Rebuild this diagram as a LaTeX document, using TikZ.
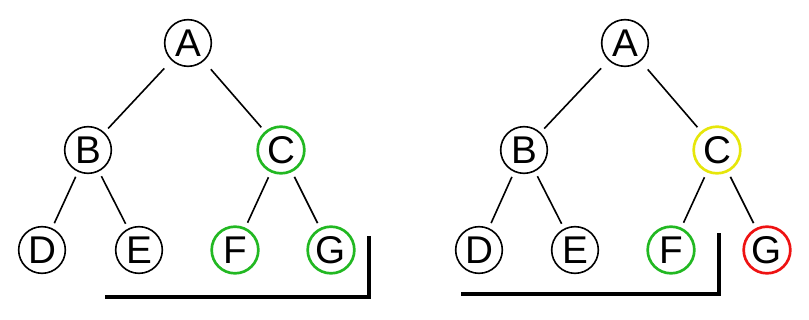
\documentclass[tikz,border=0pt]{standalone}
\usepackage{fontspec}
\setmainfont{Liberation Sans}
\definecolor{vgreen}{RGB}{34,184,34}
\definecolor{vyellow}{RGB}{230,230,10}
\definecolor{vred}{RGB}{238,18,18}
\tikzset{
  vnode/.style={circle,draw=black,line width=1.2pt,minimum size=35pt,inner sep=0pt,font=\fontsize{29}{29}\selectfont},
  hl/.style={draw=#1,line width=2pt},
  edge/.style={line width=1.2pt,shorten <=4pt,shorten >=4pt},
  topedge/.style={line width=1.2pt,shorten <=8pt,shorten >=4pt},
  bracket/.style={line width=2.3pt}
}
\begin{document}
\begin{tikzpicture}[x=0.75pt,y=-0.75pt]
\useasboundingbox (0,0) rectangle (809,320);
% left tree
\node[vnode] (lA) at (188,43) {A};
\node[vnode] (lB) at (88,150) {B};
\node[vnode,hl=vgreen] (lC) at (281,150) {C};
\node[vnode] (lD) at (42,250) {D};
\node[vnode] (lE) at (139,250) {E};
\node[vnode,hl=vgreen] (lF) at (235,250) {F};
\node[vnode,hl=vgreen] (lG) at (331,250) {G};
\draw[topedge] (lA) -- (lB);
\draw[topedge] (lA) -- (lC);
\draw[edge] (lB) -- (lD);
\draw[edge] (lB) -- (lE);
\draw[edge] (lC) -- (lF);
\draw[edge] (lC) -- (lG);
\coordinate (lb1) at (105,297);
\coordinate (lb2) at (369,297);
\coordinate (lb3) at (369,236);
\draw[bracket] (lb1) -- (lb2) -- (lb3);
% right tree
\node[vnode] (rA) at (625,43) {A};
\node[vnode] (rB) at (524,150) {B};
\node[vnode,hl=vyellow] (rC) at (717,150) {C};
\node[vnode] (rD) at (479,250) {D};
\node[vnode] (rE) at (575,250) {E};
\node[vnode,hl=vgreen] (rF) at (671,250) {F};
\node[vnode,hl=vred] (rG) at (767,250) {G};
\draw[topedge] (rA) -- (rB);
\draw[topedge] (rA) -- (rC);
\draw[edge] (rB) -- (rD);
\draw[edge] (rB) -- (rE);
\draw[edge] (rC) -- (rF);
\draw[edge] (rC) -- (rG);
\coordinate (rb1) at (461,294);
\coordinate (rb2) at (719,294);
\coordinate (rb3) at (719,233);
\draw[bracket] (rb1) -- (rb2) -- (rb3);
\end{tikzpicture}
\end{document}
